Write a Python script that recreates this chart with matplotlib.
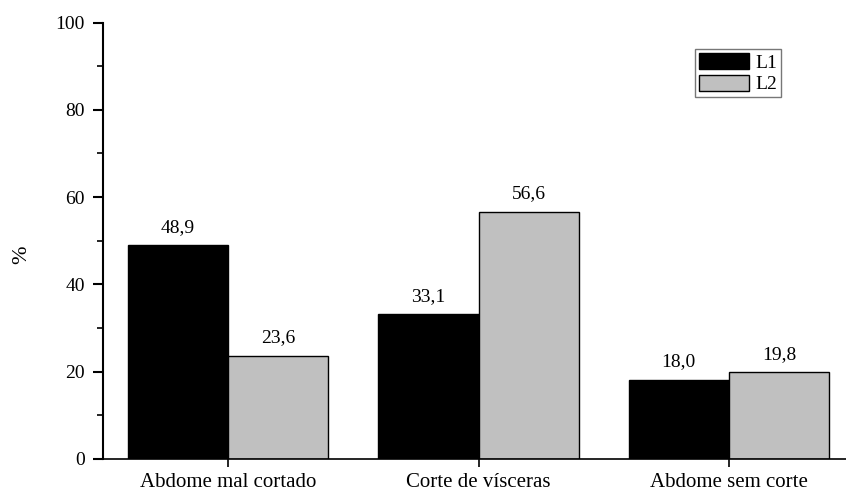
import matplotlib
matplotlib.use("Agg")
import matplotlib.pyplot as plt
import numpy as np
from matplotlib.ticker import MultipleLocator

categories = ["Abdome mal cortado", "Corte de vísceras", "Abdome sem corte"]
series_names = ["L1", "L2"]
l1_values = [48.9, 33.1, 18.0]
l2_values = [23.6, 56.6, 19.8]
value_labels_l1 = ["48,9", "33,1", "18,0"]
value_labels_l2 = ["23,6", "56,6", "19,8"]

plt.rcParams['font.family'] = ['Liberation Serif', 'DejaVu Serif']

fig = plt.figure(figsize=(8.46, 4.90), dpi=100)
W, H = 846, 490
left_px, right_px = 103, 854
top_px, bot_px = 22.7, 458.7
ax = fig.add_axes([left_px / W, 1 - bot_px / H, (right_px - left_px) / W, (bot_px - top_px) / H])

x = np.arange(len(categories))
w = 0.4
b1 = ax.bar(x - w / 2, l1_values, w, color='black', edgecolor='black', linewidth=1.0, label=series_names[0])
b2 = ax.bar(x + w / 2, l2_values, w, color='#c0c0c0', edgecolor='black', linewidth=1.0, label=series_names[1])

for rect, lab in zip(b1, value_labels_l1):
    ax.annotate(lab, (rect.get_x() + rect.get_width() / 2, rect.get_height()),
                xytext=(0, 7), textcoords='offset points', ha='center', va='bottom', fontsize=14)
for rect, lab in zip(b2, value_labels_l2):
    ax.annotate(lab, (rect.get_x() + rect.get_width() / 2, rect.get_height()),
                xytext=(0, 7), textcoords='offset points', ha='center', va='bottom', fontsize=14)

ax.set_xlim(-0.5, 2.5)
ax.set_ylim(0, 100)
ax.set_xticks(x)
ax.set_xticklabels(categories, fontsize=15)
ax.yaxis.set_major_locator(MultipleLocator(20))
ax.yaxis.set_minor_locator(MultipleLocator(10))
ax.tick_params(axis='y', which='major', direction='out', length=7, width=1.5, labelsize=14, pad=6)
ax.tick_params(axis='y', which='minor', direction='out', length=4, width=1.2)
ax.tick_params(axis='x', which='major', direction='out', length=6, width=1.2, pad=4)

for s in ['top', 'right']:
    ax.spines[s].set_visible(False)
ax.spines['left'].set_linewidth(1.5)
ax.spines['bottom'].set_linewidth(1.2)

ax.set_ylabel('%', fontsize=16)
ax.yaxis.set_label_coords((31 - left_px) / (right_px - left_px), (bot_px - 255) / (bot_px - top_px))

leg = ax.legend(loc='upper left', bbox_to_anchor=((695 - left_px) / (right_px - left_px), 1 - (49 - top_px) / (bot_px - top_px)),
                fontsize=14, frameon=True, fancybox=False, handlelength=2.6, handleheight=0.9,
                borderpad=0.2, labelspacing=0.15, handletextpad=0.3, borderaxespad=0)
leg.get_frame().set_edgecolor('#555555')
leg.get_frame().set_linewidth(1.0)

fig.savefig('out.png', dpi=100)
